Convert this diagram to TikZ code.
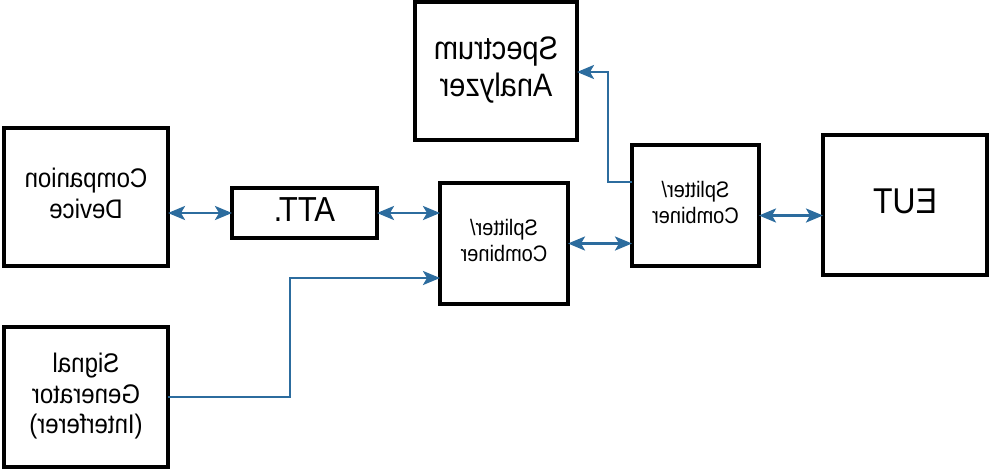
\documentclass[tikz,border=0pt]{standalone}
\usepackage{graphicx}
\usepackage{fontspec}
\setmainfont{Liberation Sans}
\usetikzlibrary{arrows.meta}
\definecolor{linkblue}{RGB}{44,108,158}
\newcommand{\mirtext}[3]{\scalebox{-1}[1.12]{\fontsize{#1}{#2}\selectfont\begin{tabular}{@{}c@{}}#3\end{tabular}}}
\tikzset{
  blk/.style={draw=black, line width=3.1pt, fill=white, inner sep=0pt, outer sep=0pt},
  link/.style={draw=linkblue, line width=2.6pt},
  bluetip/.tip={Stealth[length=17pt,width=14pt,inset=4pt]},
}
\begin{document}
\begin{tikzpicture}[x=1pt,y=-1pt]
\useasboundingbox (0,0) rectangle (989,469);
\node[blk, minimum width=162pt, minimum height=138pt] (SA) at (496,71) {\mirtext{29}{33}{Spectrum\\Analyzer}};
\node[blk, minimum width=127pt, minimum height=121pt] (SC2) at (695.5,205.5) {\mirtext{20}{23}{Splitter/\\Combiner}};
\node[blk, minimum width=128pt, minimum height=121pt] (SC1) at (504,243.5) {\mirtext{20}{23}{Splitter/\\Combiner}};
\node[blk, minimum width=164pt, minimum height=140pt] (EUT) at (905,205) {\mirtext{32}{38}{EUT}};
\node[blk, minimum width=164pt, minimum height=138pt] (CD) at (86,197) {\mirtext{24}{27}{Companion\\Device}};
\node[blk, minimum width=145pt, minimum height=50pt] (ATT) at (304.5,213) {\mirtext{31}{36}{ATT.}};
\node[blk, minimum width=164pt, minimum height=140pt] (SG) at (86,397) {\mirtext{24}{27}{Signal\\Generator\\(Interferer)}};
\coordinate (sgb) at (290,278);
\coordinate (sab) at (608,72);
\draw[link, bluetip-bluetip] (CD.east |- ATT.west) -- (ATT.west);
\draw[link, bluetip-bluetip] (ATT.east) -- (ATT.east -| SC1.west);
\draw[link, bluetip-bluetip] (SC1.east) -- (SC1.east -| SC2.west);
\draw[link, bluetip-bluetip] ([yshift=-10pt]SC2.east) -- ([yshift=-10pt]SC2.east -| EUT.west);
\draw[link, -bluetip] (SG.east) -| (sgb) -- (sgb -| SC1.west);
\draw[link, -bluetip] ([yshift=23.5pt]SC2.west) -| (sab) -- (sab -| SA.east);
\end{tikzpicture}
\end{document}
